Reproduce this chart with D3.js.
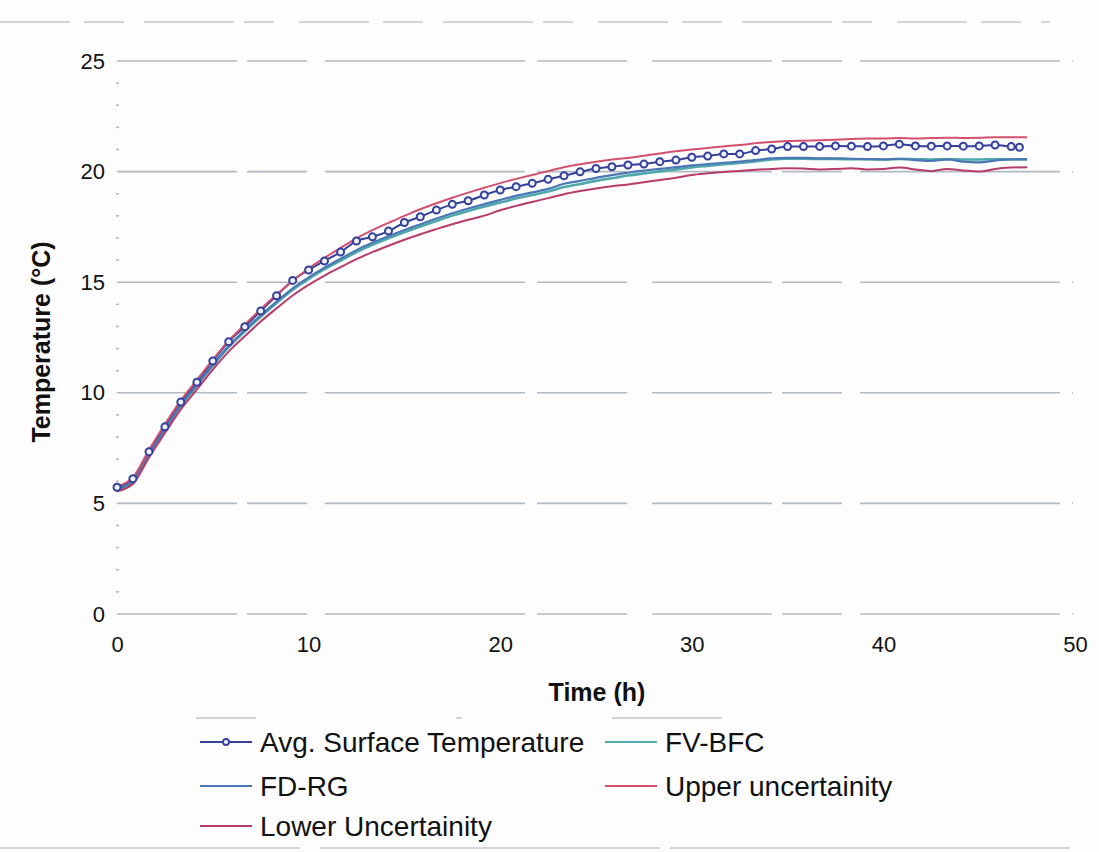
<!DOCTYPE html>
<html>
<head>
<meta charset="utf-8">
<script src="https://cdn.jsdelivr.net/npm/d3@7"></script>
<style>
  html, body { margin: 0; padding: 0; background: #fdfdfd; }
  svg { display: block; }
  text { font-family: "Liberation Sans", Arial, sans-serif; fill: #111; }
</style>
</head>
<body>
<svg id="chart" width="1099" height="852"></svg>
<script>
// Time grid (h) for the simulated and uncertainty curves
const hours = [0, 0.83, 1.67, 2.5, 3.33, 4.17, 5, 5.83, 6.67, 7.5, 8.33, 9.17, 10, 10.83, 11.67,
  12.5, 13.33, 14.17, 15, 15.83, 16.67, 17.5, 18.33, 19.17, 20, 20.83, 21.67, 22.5, 23.33, 24.17,
  25, 25.83, 26.67, 27.5, 28.33, 29.17, 30, 30.83, 31.67, 32.5, 33.33, 34.17, 35, 35.83, 36.67,
  37.5, 38.33, 39.17, 40, 40.83, 41.67, 42.5, 43.33, 44.17, 45, 45.83, 46.67, 47.5];

// Measured samples (h)
const surfaceHours = [0, 0.83, 1.67, 2.5, 3.33, 4.17, 5, 5.83, 6.67, 7.5, 8.33, 9.17, 10, 10.83, 11.67,
  12.5, 13.33, 14.17, 15, 15.83, 16.67, 17.5, 18.33, 19.17, 20, 20.83, 21.67, 22.5, 23.33, 24.17,
  25, 25.83, 26.67, 27.5, 28.33, 29.17, 30, 30.83, 31.67, 32.5, 33.33, 34.17, 35, 35.83, 36.67,
  37.5, 38.33, 39.17, 40, 40.83, 41.67, 42.5, 43.33, 44.17, 45, 45.83, 46.67, 47.1];

// Temperatures (°C)
const avgSurface = [5.73, 6.12, 7.34, 8.46, 9.58, 10.48, 11.44, 12.31, 12.99, 13.70, 14.39, 15.08, 15.55, 15.96, 16.36,
  16.86, 17.05, 17.31, 17.70, 17.96, 18.26, 18.52, 18.68, 18.94, 19.17, 19.32, 19.47, 19.65, 19.81, 19.99,
  20.14, 20.22, 20.30, 20.34, 20.45, 20.52, 20.65, 20.70, 20.80, 20.80, 20.95, 21.02, 21.13, 21.13, 21.14,
  21.16, 21.15, 21.13, 21.16, 21.24, 21.16, 21.15, 21.16, 21.15, 21.16, 21.20, 21.13, 21.10];

const fdRg = [5.65, 6.00, 7.22, 8.35, 9.45, 10.36, 11.28, 12.12, 12.84, 13.50, 14.12, 14.72, 15.22, 15.66, 16.06,
  16.45, 16.78, 17.08, 17.36, 17.62, 17.88, 18.12, 18.33, 18.53, 18.72, 18.90, 19.06, 19.22, 19.45, 19.58,
  19.72, 19.84, 19.95, 20.04, 20.12, 20.20, 20.28, 20.34, 20.40, 20.45, 20.52, 20.60, 20.62, 20.62, 20.60,
  20.60, 20.58, 20.56, 20.55, 20.58, 20.52, 20.48, 20.55, 20.45, 20.42, 20.50, 20.55, 20.55];

const fvBfc = [5.63, 5.97, 7.18, 8.31, 9.41, 10.32, 11.23, 12.07, 12.78, 13.44, 14.06, 14.66, 15.15, 15.59, 15.98,
  16.36, 16.69, 16.99, 17.26, 17.52, 17.77, 18.01, 18.22, 18.42, 18.60, 18.78, 18.94, 19.10, 19.30, 19.44,
  19.58, 19.70, 19.82, 19.92, 20.01, 20.10, 20.19, 20.26, 20.33, 20.39, 20.46, 20.55, 20.58, 20.58, 20.57,
  20.57, 20.56, 20.56, 20.55, 20.57, 20.56, 20.55, 20.56, 20.55, 20.55, 20.56, 20.56, 20.56];

const upperUnc = [5.78, 6.18, 7.42, 8.58, 9.66, 10.58, 11.50, 12.36, 13.08, 13.78, 14.44, 15.06, 15.62, 16.10, 16.55,
  16.98, 17.35, 17.68, 18.00, 18.30, 18.57, 18.82, 19.05, 19.27, 19.48, 19.67, 19.85, 20.02, 20.20, 20.33,
  20.45, 20.55, 20.62, 20.72, 20.82, 20.92, 21.00, 21.07, 21.14, 21.20, 21.28, 21.34, 21.38, 21.40, 21.42,
  21.44, 21.47, 21.50, 21.50, 21.52, 21.50, 21.52, 21.53, 21.52, 21.53, 21.55, 21.55, 21.55];

const lowerUnc = [5.55, 5.88, 7.08, 8.18, 9.25, 10.15, 11.05, 11.86, 12.56, 13.22, 13.82, 14.40, 14.88, 15.30, 15.68,
  16.04, 16.36, 16.65, 16.92, 17.17, 17.40, 17.62, 17.82, 18.01, 18.25, 18.45, 18.63, 18.80, 18.98, 19.12,
  19.24, 19.34, 19.42, 19.52, 19.62, 19.72, 19.85, 19.92, 19.98, 20.03, 20.08, 20.12, 20.15, 20.14, 20.10,
  20.12, 20.15, 20.10, 20.12, 20.18, 20.10, 20.02, 20.12, 20.05, 20.00, 20.12, 20.18, 20.20];

const xTicks = [0, 10, 20, 30, 40, 50];
const yTicks = [0, 5, 10, 15, 20, 25];
const legendNames = ["Avg. Surface Temperature", "FV-BFC", "FD-RG", "Upper uncertainity", "Lower Uncertainity"];

const colors = {
  avg: "#34409a",
  fv: "#4fa9ab",
  fd: "#4a78b4",
  upper: "#d4506f",
  lower: "#b83c68"
};

const svg = d3.select("#chart");
const x = d3.scaleLinear().domain([0, 50]).range([117, 1075]);
const y = d3.scaleLinear().domain([0, 25]).range([614, 61]);

// faint frame lines of the chart and legend boxes
const frame = svg.append("g").attr("stroke", "#c4c8ce").attr("stroke-width", 1.5).attr("fill", "none");
frame.append("line").attr("x1", 0).attr("x2", 1050).attr("y1", 22).attr("y2", 22)
  .attr("stroke-dasharray", "70 14 40 20 90 10 30 25");
frame.append("line").attr("x1", 196).attr("x2", 950).attr("y1", 718).attr("y2", 718)
  .attr("stroke-dasharray", "60 200 6 150 110 300");
frame.append("line").attr("x1", 0).attr("x2", 1099).attr("y1", 848).attr("y2", 848)
  .attr("stroke-dasharray", "300 20 340 10 400");

// horizontal gridlines
svg.append("g")
  .selectAll("line")
  .data(yTicks)
  .join("line")
  .attr("x1", x(0)).attr("x2", 1073)
  .attr("y1", d => y(d)).attr("y2", d => y(d))
  .attr("stroke", "#b3bac3")
  .attr("stroke-width", 1.6)
  .attr("stroke-dasharray", "120 10 60 18 200 12 90 25");

// minor ticks on the value axis
svg.append("g")
  .selectAll("line")
  .data(d3.range(1, 25).filter(v => v % 5 !== 0))
  .join("line")
  .attr("x1", x(0) - 1).attr("x2", x(0) + 2)
  .attr("y1", d => y(d)).attr("y2", d => y(d))
  .attr("stroke", "#b0b4ba").attr("stroke-width", 1.5);

// axes
const xAxis = svg.append("g")
  .attr("transform", `translate(0,${y(0)})`)
  .call(d3.axisBottom(x).tickValues(xTicks).tickSize(0).tickPadding(22));
xAxis.select(".domain").remove();
xAxis.selectAll("text").attr("font-size", 22).attr("font-family", "Liberation Sans, Arial, sans-serif").attr("fill", "#111");

const yAxis = svg.append("g")
  .attr("transform", `translate(${x(0)},0)`)
  .call(d3.axisLeft(y).tickValues(yTicks).tickSize(0).tickPadding(12));
yAxis.select(".domain").remove();
yAxis.selectAll("text").attr("font-size", 22).attr("font-family", "Liberation Sans, Arial, sans-serif").attr("fill", "#111");

// axis titles
svg.append("text")
  .attr("x", 597).attr("y", 701)
  .attr("text-anchor", "middle")
  .attr("font-size", 25).attr("font-weight", "bold")
  .text("Time (h)");
svg.append("text")
  .attr("transform", "translate(50,342) rotate(-90)")
  .attr("text-anchor", "middle")
  .attr("font-size", 25).attr("font-weight", "bold")
  .text("Temperature (°C)");

// series
const line = d3.line().x(d => x(d[0])).y(d => y(d[1])).curve(d3.curveMonotoneX);
const zip = (ts, vs) => ts.map((t, i) => [t, vs[i]]);

const series = [
  { data: zip(surfaceHours, avgSurface), color: colors.avg, w: 2 },
  { data: zip(hours, fvBfc), color: colors.fv, w: 2.6 },
  { data: zip(hours, fdRg), color: colors.fd, w: 2.2 },
  { data: zip(hours, upperUnc), color: colors.upper, w: 2 },
  { data: zip(hours, lowerUnc), color: colors.lower, w: 2 }
];

svg.append("g")
  .selectAll("path")
  .data(series)
  .join("path")
  .attr("d", d => line(d.data))
  .attr("fill", "none")
  .attr("stroke", d => d.color)
  .attr("stroke-width", d => d.w)
  .attr("stroke-linejoin", "round");

// measured points
svg.append("g")
  .selectAll("circle")
  .data(zip(surfaceHours, avgSurface))
  .join("circle")
  .attr("cx", d => x(d[0]))
  .attr("cy", d => y(d[1]))
  .attr("r", 3.5)
  .attr("fill", "#eef0fa")
  .attr("stroke", colors.avg)
  .attr("stroke-width", 2);

// legend
const legendItems = [
  { name: legendNames[0], color: colors.avg, lx: 200, ly: 742, marker: true },
  { name: legendNames[1], color: colors.fv, lx: 605, ly: 742 },
  { name: legendNames[2], color: colors.fd, lx: 200, ly: 786 },
  { name: legendNames[3], color: colors.upper, lx: 605, ly: 786 },
  { name: legendNames[4], color: colors.lower, lx: 200, ly: 826 }
];
const lg = svg.append("g")
  .selectAll("g")
  .data(legendItems)
  .join("g")
  .attr("transform", d => `translate(${d.lx},${d.ly})`);
lg.append("line")
  .attr("x1", 0).attr("x2", 52).attr("y1", 0).attr("y2", 0)
  .attr("stroke", d => d.color).attr("stroke-width", 2.2);
lg.filter(d => d.marker).append("circle")
  .attr("cx", 26).attr("cy", 0).attr("r", 3)
  .attr("fill", "#eef0fa").attr("stroke", d => d.color).attr("stroke-width", 1.8);
lg.append("text")
  .attr("x", 60).attr("y", 0).attr("dy", "0.35em")
  .attr("font-size", 28)
  .text(d => d.name);
</script>
</body>
</html>
